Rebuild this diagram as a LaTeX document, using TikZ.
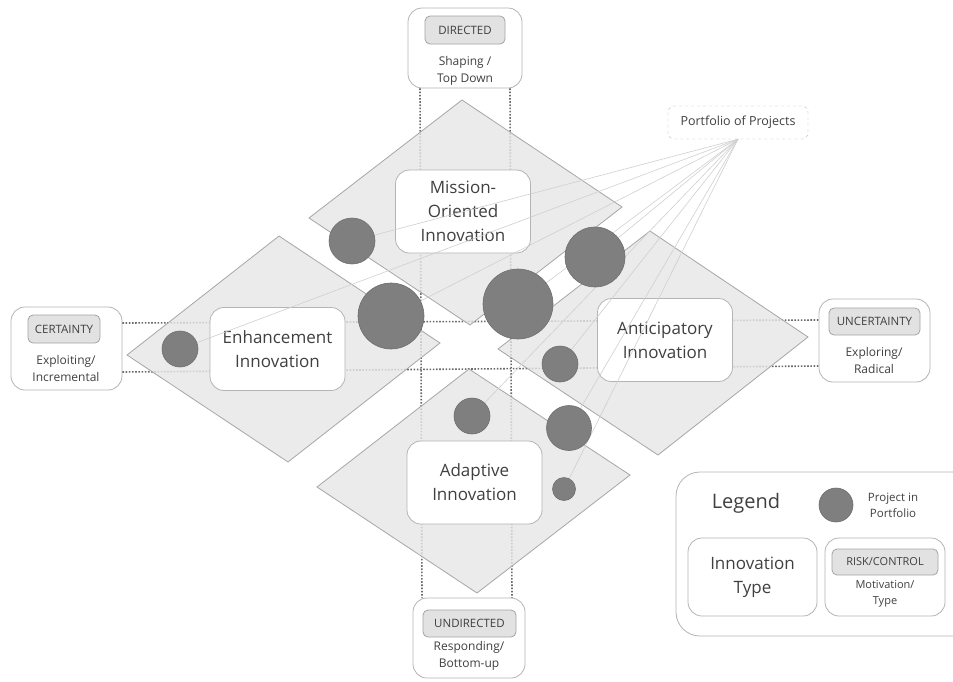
\documentclass[tikz,border=0pt]{standalone}
\usepackage{fontspec}
\setmainfont{Open Sans}
\definecolor{txt}{HTML}{404040}
\definecolor{diafill}{HTML}{E6E6E6}
\definecolor{diaedge}{HTML}{A6A6A6}
\definecolor{dotc}{HTML}{6A6A6A}
\definecolor{circfill}{HTML}{7F7F7F}
\definecolor{circedge}{HTML}{6E6E6E}
\definecolor{tagfill}{HTML}{E2E2E2}
\definecolor{tagedge}{HTML}{A4A4A4}
\definecolor{boxedge}{HTML}{B4B4B4}
\definecolor{spoke}{HTML}{CFCFCF}
\begin{document}
\begin{tikzpicture}[x=1pt,y=-1pt,
  every node/.style={text=txt, inner sep=0pt},
  dia/.style={fill=diafill, fill opacity=0.8, draw=diaedge, line width=0.8pt, line join=miter},
  typebox/.style={draw=boxedge, fill=white, rounded corners=14pt, line width=0.8pt,
    minimum width=135pt, minimum height=83pt, align=center,
    font=\fontsize{17}{24}\selectfont},
  sidebox/.style={draw=boxedge, fill=white, rounded corners=14pt, line width=0.8pt},
  tagbox/.style={draw=tagedge, fill=tagfill, rounded corners=5pt, line width=0.8pt,
    font=\fontsize{11.5}{14}\selectfont},
  subtext/.style={align=center, font=\fontsize{12}{17}\selectfont},
  project/.style={circle, fill=circfill, draw=circedge, line width=0.6pt},
  dotline/.style={draw=dotc, line width=1.6pt, dash pattern=on 1.6pt off 1.6pt},
  spokeline/.style={draw=spoke, line width=0.6pt}]
\useasboundingbox (0,0) rectangle (953,681);

% orientation boxes on the four sides
\node[sidebox, minimum width=114pt, minimum height=80pt] (dir) at (465,48) {};
\node[tagbox, minimum width=80pt, minimum height=28pt] (dirtag) at (465,30) {DIRECTED};
\node[subtext] (dirtxt) at (465,71) {Shaping /\\Top Down};

\node[sidebox, minimum width=112pt, minimum height=80pt] (undir) at (469,638) {};
\node[tagbox, minimum width=93pt, minimum height=27pt] (undirtag) at (469.5,623.5) {UNDIRECTED};
\node[subtext] (undirtxt) at (469,656) {Responding/\\Bottom-up};

\node[sidebox, minimum width=111pt, minimum height=83pt] (cert) at (66.5,348.5) {};
\node[tagbox, minimum width=72pt, minimum height=28pt] (certtag) at (64,329) {CERTAINTY};
\node[subtext] (certtxt) at (66,368) {Exploiting/\\Incremental};

\node[sidebox, minimum width=111pt, minimum height=83pt] (uncert) at (874.5,340.5) {};
\node[tagbox, minimum width=91pt, minimum height=27pt] (uncerttag) at (874.5,321.5) {UNCERTAINTY};
\node[subtext] (uncerttxt) at (874,360) {Exploring/\\Radical};

% dotted axes
\draw[dotline] (dir.south -| 420,0) -- (undir.north -| 422,0);
\draw[dotline] (dir.south -| 510,0) -- (undir.north -| 512,0);
\draw[dotline] (cert.east |- 0,323) -- (uncert.west |- 0,320);
\draw[dotline] (cert.east |- 0,372) -- (uncert.west |- 0,366);

% innovation quadrants
\path[dia] (462,100) -- (622,207) -- (470,325) -- (309,218) -- cycle;
\path[dia] (279,236) -- (440,343) -- (288,462) -- (127,355) -- cycle;
\path[dia] (650,231) -- (808,337) -- (658,455) -- (498,349) -- cycle;
\path[dia] (469,369) -- (630,475) -- (477,593) -- (317,487) -- cycle;

\node[typebox] (mission) at (463,211.5) {Mission-\\Oriented\\Innovation};
\node[typebox] (enh) at (277.5,349) {Enhancement\\Innovation};
\node[typebox] (anti) at (665,340) {Anticipatory\\Innovation};
\node[typebox] (adapt) at (474.5,482.5) {Adaptive\\Innovation};

% portfolio hub
\node[draw=boxedge, dashed, fill=white, rounded corners=6pt, minimum width=140pt,
  minimum height=33pt, font=\fontsize{12.5}{15}\selectfont] (pf) at (738,122.5) {Portfolio of Projects};

% project positions
\coordinate (c1) at (352,241);
\coordinate (c2) at (391,316);
\coordinate (c3) at (180,349);
\coordinate (c4) at (518,304);
\coordinate (c5) at (595,257);
\coordinate (c6) at (560,364);
\coordinate (c7) at (472,416);
\coordinate (c8) at (569,428);
\coordinate (c9) at (564,489);

% spokes from the portfolio to each project
\foreach \c in {c1,c2,c3,c4,c5,c6,c7,c8,c9}
  \draw[spokeline] (pf.south) -- (\c);

% projects, sized by weight
\foreach \c/\s in {c1/46,c2/66,c3/36,c4/70,c5/60,c6/36,c7/36,c8/45,c9/23}
  \node[project, minimum size=\s pt] (p\c) at (\c) {};

% legend
\node[sidebox, rounded corners=24pt, minimum width=300pt, minimum height=164pt] (legend) at (826,554) {};
\node[font=\fontsize{20}{24}\selectfont] (legtitle) at (746,503) {Legend};
\node[project, minimum size=34pt] (legcirc) at (836,505) {};
\node[align=center, font=\fontsize{11.5}{16}\selectfont] (legproj) at (893,505) {Project in\\Portfolio};
\node[sidebox, minimum width=129pt, minimum height=78pt, align=center,
  font=\fontsize{17}{24}\selectfont] (legtype) at (752.5,577) {Innovation\\Type};
\node[sidebox, minimum width=120pt, minimum height=78pt] (legrisk) at (885,577) {};
\node[tagbox, minimum width=106pt, minimum height=26pt, font=\fontsize{11}{14}\selectfont] (legtag) at (885,562) {RISK/CONTROL};
\node[align=center, font=\fontsize{11}{16}\selectfont] (legmot) at (885,594) {Motivation/\\Type};
\end{tikzpicture}
\end{document}
